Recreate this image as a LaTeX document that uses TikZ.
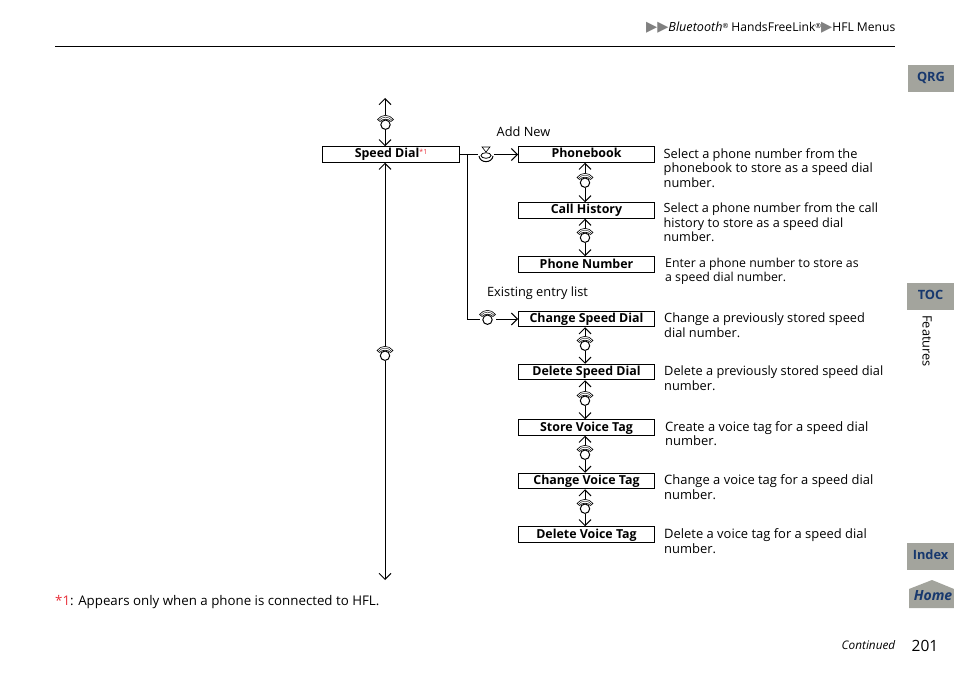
\documentclass[tikz,border=0pt]{standalone}
\usepackage{fontspec}
\usepackage{xcolor}
\setmainfont{Open Sans}
\newfontfamily\symfont{DejaVu Sans}
\usetikzlibrary{arrows.meta}
\usetikzlibrary{shapes}
\definecolor{tabgray}{HTML}{A3A49D}
\definecolor{tabblue}{HTML}{17386E}
\definecolor{notered}{HTML}{E8303A}
\tikzset{x=1pt,y=-1pt,
 every node/.style={inner sep=0pt,font=\fontsize{12.8}{14.5}\selectfont},
 menubox/.style={draw,line width=1pt,minimum width=136pt,minimum height=15.5pt,
  text height=10pt,text depth=3pt,font=\fontsize{12.4}{14}\selectfont\bfseries},
 desc/.style={anchor=west,align=left},
 tabbox/.style={fill=tabgray,text=tabblue,minimum height=27pt,text height=9.5pt,text depth=3pt,
  font=\fontsize{12.8}{14}\selectfont\bfseries},
 conn/.style={line width=1pt},
 updown/.style={conn,{Straight Barb[length=6pt,width=12pt]}-{Straight Barb[length=6pt,width=12pt]}},
 onedir/.style={conn,-{Straight Barb[length=6pt,width=12pt]}},
 knob/.pic={
  \fill [white] (-8,-7) rectangle (8,8);
  \draw [line width=.6pt] (-8,-2.5) .. controls (-4,-8) and (4,-8) .. (8,-2.5)
   -- (5.5,-.5) .. controls (3,-3.5) and (-3,-3.5) .. (-5.5,-.5) -- cycle;
  \draw [line width=.4pt] (-6.8,-1.5) .. controls (-3,-6) and (3,-6) .. (6.8,-1.5);
  \draw [line width=1pt,fill=white] (0,2.7) circle (4.7);
 },
 press/.pic={
  \fill [white] (-8,-8) rectangle (8,8);
  \draw [line width=.6pt] (-4,-7.5) -- (4,-7.5) -- (0,-2.5) -- cycle;
  \draw [line width=.8pt] (0,1) ellipse (5 and 2.8);
  \draw [line width=1pt] (-7,1.5) .. controls (-6,9) and (6,9) .. (7,1.5);
 },
}
\begin{document}
\begin{tikzpicture}
    \useasboundingbox (0,0) rectangle (954,674);
    % running head
    \coordinate (ruleleft) at (55,46.5);
    \coordinate (ruleright) at (895,46.5);
    \draw [line width=1pt] (ruleleft) -- (ruleright);
    \node (headline) [anchor=east,font=\fontsize{12.1}{13}\selectfont] at (895.5,27.5)
        {{\symfont\fontsize{14.5}{13}\selectfont\textcolor{gray}{▶▶}}{\fontsize{12.6}{13}\selectfont\textit{Bluetooth}}\raisebox{3pt}{\fontsize{7}{7}\selectfont®} HandsFreeLink\raisebox{3pt}{\fontsize{7}{7}\selectfont®}{\symfont\fontsize{14.5}{13}\selectfont\textcolor{gray}{▶}}HFL Menus};
    % side tabs
    \node (qrg) [tabbox,minimum width=46pt] at (931,78.5) {QRG};
    \node (toc) [tabbox,minimum width=47pt] at (930.5,296.5) {TOC};
    \node (index) [tabbox,minimum width=47pt] at (930.5,556.5) {Index};
    \fill [tabgray] (909,589) -- (932,580) -- (954,589) -- (954,608) -- (909,608) -- cycle;
    \node (home) [text=tabblue,font=\fontsize{14}{14}\selectfont\rmfamily\bfseries\itshape] at (933,596) {Home};
    \node (features) [rotate=-90,font=\fontsize{12.8}{13}\selectfont] at (927,341) {Features};
    % boxes
    \node (speeddial) [menubox,minimum width=137.5pt] at (391,154.5) {Speed Dial\raisebox{3.5pt}{\textcolor{notered}{\fontsize{7}{7}\selectfont\mdseries *1}}};
    \node (phonebook) [menubox] at (586.5,154.5) {Phonebook};
    \node (callhistory) [menubox] at (586.5,210.5) {Call History};
    \node (phonenumber) [menubox] at (586.5,264.5) {Phone Number};
    \node (changedial) [menubox] at (586.5,319) {Change Speed Dial};
    \node (deletedial) [menubox] at (586.5,372) {Delete Speed Dial};
    \node (storetag) [menubox] at (586.5,427.5) {Store Voice Tag};
    \node (changetag) [menubox] at (586.5,481) {Change Voice Tag};
    \node (deletetag) [menubox] at (586.5,534.5) {Delete Voice Tag};
    % left column
    \coordinate (topend) at (385,98);
    \coordinate (bottomend) at (385,580);
    \draw [updown] (topend) -- (topend |- speeddial.north);
    \draw [updown] (bottomend |- speeddial.south) -- (bottomend);
    \pic at (385.5,122) {knob};
    \pic at (385,353) {knob};
    % branches
    \coordinate (branch) at (467,154.5);
    \draw [onedir] (speeddial.east) -- (phonebook.west);
    \draw [onedir] (branch) |- (changedial.west);
    \pic at (486,154.5) {press};
    \pic at (487.5,317) {knob};
    % steps between the boxes
    \coordinate (stem) at (585,0);
    \draw [updown] (stem |- phonebook.south) -- (stem |- callhistory.north);
    \draw [updown] (stem |- callhistory.south) -- (stem |- phonenumber.north);
    \draw [updown] (stem |- changedial.south) -- (stem |- deletedial.north);
    \draw [updown] (stem |- deletedial.south) -- (stem |- storetag.north);
    \draw [updown] (stem |- storetag.south) -- (stem |- changetag.north);
    \draw [updown] (stem |- changetag.south) -- (stem |- deletetag.north);
    \pic at (585,180) {knob};
    \pic at (585,235) {knob};
    \pic at (585,343) {knob};
    \pic at (585,398) {knob};
    \pic at (585,452) {knob};
    \pic at (585,506) {knob};
    % texts
    \node (addnew) at (523.5,131.5) {Add New};
    \node (existing) at (537.5,293) {Existing entry list};
    \node (descbook) [desc] at (663.5,168) {Select a phone number from the\\phonebook to store as a speed dial\\number.};
    \node (deschistory) [desc,font=\fontsize{12.65}{14.5}\selectfont] at (663.5,222.5) {Select a phone number from the call\\history to store as a speed dial\\number.};
    \node (descnumber) [desc,font=\fontsize{12.3}{14.5}\selectfont] at (665,271.5) {Enter a phone number to store as\\a speed dial number.};
    \node (descchange) [desc] at (664,325) {Change a previously stored speed\\dial number.};
    \node (descdelete) [desc] at (664,378) {Delete a previously stored speed dial\\number.};
    \node (descstore) [desc,font=\fontsize{12.95}{14.5}\selectfont] at (665,433.5) {Create a voice tag for a speed dial\\number.};
    \node (descvoice) [desc,font=\fontsize{12.95}{14.5}\selectfont] at (664,487) {Change a voice tag for a speed dial\\number.};
    \node (descremove) [desc,font=\fontsize{12.95}{14.5}\selectfont] at (664,541) {Delete a voice tag for a speed dial\\number.};
    \node (footnote) [anchor=west,font=\fontsize{13.3}{15}\selectfont] at (55,602) {\textcolor{notered}{*1}: Appears only when a phone is connected to HFL.};
    \node (continued) [font=\fontsize{11.8}{13}\selectfont\itshape] at (868.5,645) {Continued};
    \node (pagenum) [font=\fontsize{15.5}{18}\selectfont] at (925,646) {201};
\end{tikzpicture}
\end{document}
